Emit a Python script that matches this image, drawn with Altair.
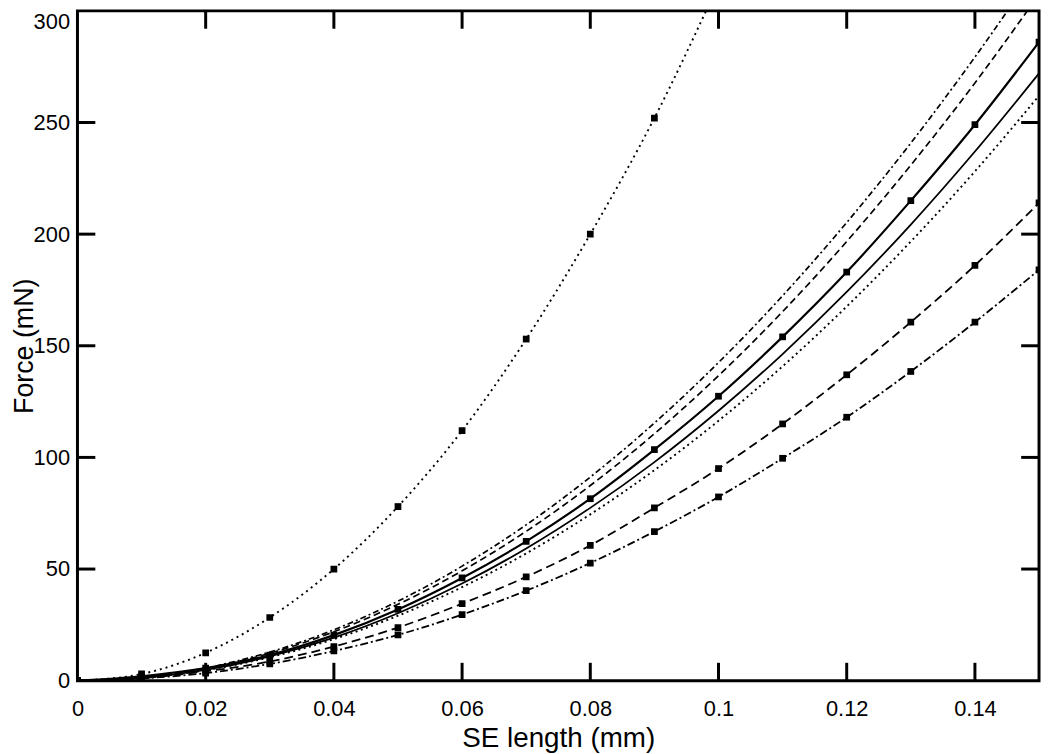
import altair as alt
import pandas as pd

# ---- data ----
x_full = [0, 0.01, 0.02, 0.03, 0.04, 0.05, 0.06, 0.07, 0.08, 0.09,
          0.10, 0.11, 0.12, 0.13, 0.14, 0.15]
x_steep = [0, 0.01, 0.02, 0.03, 0.04, 0.05, 0.06, 0.07, 0.08, 0.09, 0.10]

dashdot_top = [0, 1.4, 5.7, 12.8, 22.8, 35.6, 51.3, 69.8, 91.2, 115.4,
               142.5, 172.4, 205.2, 240.8, 279.3, 320.6]
dashed_top = [0, 1.4, 5.5, 12.3, 21.9, 34.2, 49.2, 66.9, 87.4, 110.6,
              136.6, 165.3, 196.7, 230.9, 267.7, 307.4]
solid_marked = [0, 2.0, 5.6, 11.5, 20.4, 31.9, 46.0, 62.4, 81.5, 103.5,
                127.4, 154.0, 183.0, 215.0, 249.0, 286.0]
solid_plain = [0, 1.2, 4.8, 10.9, 19.3, 30.2, 43.5, 59.2, 77.4, 97.9,
               120.9, 146.3, 174.1, 204.3, 237.0, 272.0]
dotted_low = [0, 1.2, 4.7, 10.5, 18.6, 29.1, 41.9, 57.0, 74.5, 94.3,
              116.4, 140.8, 167.6, 196.7, 228.1, 262.0]
dashed_marked = [0, 1.2, 4.2, 8.6, 15.3, 23.8, 34.5, 46.5, 60.6, 77.4,
                 95.0, 115.0, 137.0, 160.6, 186.0, 214.0]
dashdot_marked = [0, 1.0, 3.4, 7.5, 13.3, 20.5, 29.6, 40.3, 52.7, 66.8,
                  82.3, 99.6, 118.0, 138.5, 160.6, 184.0]
dotted_steep = [0, 3.0, 12.5, 28.3, 50.0, 78.0, 112.0, 153.0, 200.0, 252.0, 312.0]

x_tick_vals = [0, 0.02, 0.04, 0.06, 0.08, 0.10, 0.12, 0.14]
y_tick_vals = [0, 50, 100, 150, 200, 250, 300]
x_inner_ticks = [0.02, 0.04, 0.06, 0.08, 0.10, 0.12, 0.14]
y_inner_ticks = [50, 100, 150, 200, 250]

W, H = 969, 675
FONT = "Liberation Sans"
TICK = 18

xscale = alt.Scale(domain=[0, 0.15], nice=False, zero=False)
yscale = alt.Scale(domain=[0, 300], nice=False, zero=False)

xaxis = alt.Axis(values=x_tick_vals, format="~g", tickSize=0, domain=False,
                 grid=False, labelFontSize=22, labelFont=FONT, labelColor="black",
                 labelPadding=18, title="SE length (mm)", titleFont=FONT,
                 titleFontSize=28, titleFontWeight="normal", titleColor="black",
                 titlePadding=5, labelFlush=False)
yaxis = alt.Axis(values=y_tick_vals, tickSize=0, domain=False, grid=False,
                 labelFontSize=22, labelFont=FONT, labelColor="black",
                 labelPadding=8, title="Force (mN)", titleFont=FONT,
                 titleFontSize=27, titleFontWeight="normal", titleColor="black",
                 titlePadding=-5,
                 labelOffset={"condition": {"test": "datum.value == 300", "value": 11},
                              "value": 0})

X = alt.X("x:Q", scale=xscale, axis=xaxis)
Y = alt.Y("y:Q", scale=yscale, axis=yaxis)

series = [
    (x_full, dashdot_top, [6, 3, 2, 3], 1.7, False),
    (x_full, dashed_top, [7, 4], 1.7, False),
    (x_full, solid_marked, None, 2.2, True),
    (x_full, solid_plain, None, 1.8, False),
    (x_full, dotted_low, [2, 3.5], 1.9, False),
    (x_full, dashed_marked, [9, 5], 1.8, True),
    (x_full, dashdot_marked, [8, 3, 2, 3], 1.8, True),
    (x_steep, dotted_steep, [2, 4], 1.9, True),
]

layers = []
for xs, ys, dash, sw, marked in series:
    df = pd.DataFrame({"x": xs, "y": ys})
    line_kwargs = dict(color="black", strokeWidth=sw, clip=True, interpolate="monotone")
    if dash is not None:
        line_kwargs["strokeDash"] = dash
    layers.append(alt.Chart(df).mark_line(**line_kwargs).encode(x=X, y=Y))
    if marked:
        layers.append(
            alt.Chart(df).mark_square(color="black", size=46, opacity=1, clip=True)
            .encode(x=X, y=Y)
        )

xt = pd.DataFrame({"x": x_inner_ticks})
yt = pd.DataFrame({"y": y_inner_ticks})
tick_style = dict(color="black", strokeWidth=3)
layers.append(alt.Chart(xt).mark_rule(**tick_style).encode(
    x=X, y=alt.value(H), y2=alt.value(H - TICK)))
layers.append(alt.Chart(xt).mark_rule(**tick_style).encode(
    x=X, y=alt.value(0), y2=alt.value(TICK)))
layers.append(alt.Chart(yt).mark_rule(**tick_style).encode(
    y=Y, x=alt.value(0), x2=alt.value(TICK)))
layers.append(alt.Chart(yt).mark_rule(**tick_style).encode(
    y=Y, x=alt.value(W), x2=alt.value(W - TICK)))

chart = alt.layer(*layers).properties(
    width=W, height=H,
    autosize=alt.AutoSizeParams(type="none"),
    padding={"left": 70, "top": 0, "right": 3, "bottom": 71},
).configure_view(stroke="black", strokeWidth=3)

chart.save("out.html", embed_options={"renderer": "svg", "actions": False})
